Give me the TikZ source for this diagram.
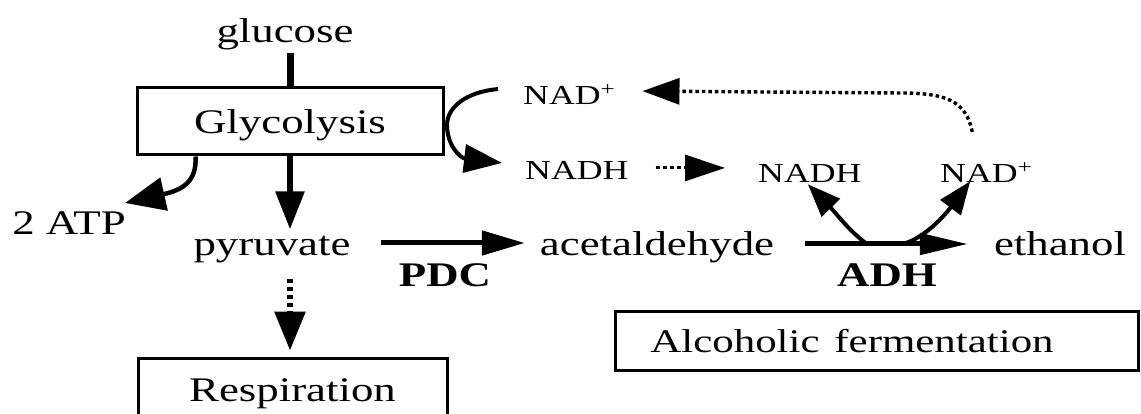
\documentclass[tikz,border=0pt]{standalone}
\usepackage{fontspec}
\setmainfont{Liberation Serif}[FakeStretch=1.3]
\usetikzlibrary{arrows.meta}
\tikzset{
  txt/.style={inner sep=0pt, anchor=base, font=\fontsize{34.5}{40}\selectfont},
  boldtxt/.style={txt, font=\fontsize{34.5}{40}\selectfont\bfseries},
  small/.style={inner sep=0pt, anchor=base west, font=\fontsize{27.5}{32}\selectfont},
  box/.style={draw, line width=3pt, inner sep=0pt, text height=25pt, text depth=0pt,
              font=\fontsize{34.5}{40}\selectfont},
  solidarrow/.style={line width=#1, -{Triangle[length=38pt,width=28pt]}},
  dotline/.style={line width=3.4pt, dash pattern=on 3.5pt off 3pt},
}
\begin{document}
\begin{tikzpicture}[x=1pt,y=-1pt]
\fill[white] (0,0) rectangle (1141,414);
\useasboundingbox (0,0) rectangle (1141,414);

% text nodes
\node[txt] (glucose) at (285,43) {glucose};
\node[box, minimum width=306pt, minimum height=67pt] (glyc) at (290,121.5) {Glycolysis};
\node[txt] (atp) at (69,235) {2 ATP};
\node[txt] (pyr) at (272,255) {pyruvate};
\node[boldtxt] (pdc) at (445,287) {PDC};
\node[txt] (acet) at (657,255) {acetaldehyde};
\node[txt] (eth) at (1060,255) {ethanol};
\node[boldtxt] (adh) at (887,287) {ADH};
\node[small] (nadp1) at (523,105) {NAD\textsuperscript{+}};
\node[small] (nadh1) at (525,180) {NADH};
\node[small] (nadh2) at (758,183) {NADH};
\node[small] (nadp2) at (940,183) {NAD\textsuperscript{+}};
\node[box, minimum width=309pt, minimum height=62pt] (resp) at (292.5,389) {Respiration};
\node[draw, line width=3pt, minimum width=523pt, minimum height=59pt, inner sep=0pt] (alc) at (876.5,341) {};
\node[txt, font=\fontsize{33}{38}\selectfont] (alctxt) at (852,352) {Alcoholic\hspace{0.45em}fermentation};

% glucose -> glycolysis
\draw[line width=7pt] ([shift={(0,2)}]glucose.south -| glyc.north) -- (glyc.north);
% glycolysis -> pyruvate
\draw[solidarrow=6pt] (glyc.south) -- ([shift={(0,-6)}]glyc.south |- pyr.north);
% glycolysis -> 2 ATP
\draw[line width=4.5pt, -{Triangle[length=40pt,width=33pt]}]
  ([shift={(60,0)}]glyc.south west) .. controls (197,182) and (182,190) .. ([shift={(113,-9)}]atp.north west);
% NAD+ -> NADH loop
\draw[line width=4pt, -{Triangle[length=38pt,width=28pt]}]
  ([shift={(-25,-6)}]nadp1.west) .. controls (465,92) and (447,108) .. (447,125)
  .. controls (447,145) and (460,158) .. ([shift={(-23,-8)}]nadh1.west);
% NADH -> NADH dotted
\draw[line width=3pt, dash pattern=on 4pt off 3pt, -{Triangle[length=40pt,width=26pt]}]
  ([shift={(27,-3)}]nadh1.east) -- ([shift={(-33,-6)}]nadh2.west);
% NAD+ (right) -> NAD+ (left) dotted feedback
\draw[dotline, -{Triangle[length=37pt,width=26pt]}]
  ([shift={(-14,-31)}]nadp2.north) .. controls (966,100) and (945,93) .. (900,93)
  -- ([shift={(27,-4)}]nadp1.east);
% pyruvate -> respiration dotted
\draw[line width=6pt, dash pattern=on 4pt off 4pt, -{Triangle[length=39pt,width=30pt]}]
  ([shift={(0,16)}]pyr.south -| glyc.south) -- ([shift={(0,-6)}]resp.north -| glyc.south);
% pyruvate -> acetaldehyde (PDC)
\draw[line width=5pt, -{Triangle[length=43pt,width=24pt]}]
  ([shift={(30,-12)}]pyr.base east) -- ([shift={(-15,-12)}]acet.base west);
% acetaldehyde -> ethanol (ADH)
\draw[line width=5pt, -{Triangle[length=48pt,width=21pt]}]
  ([shift={(31,-11)}]acet.base east) -- ([shift={(-26,-11)}]eth.base west)
  coordinate[pos=0.38] (adhL) coordinate[pos=0.6] (adhR);
% ADH side arrows
\draw[line width=4pt, -{Triangle[length=33pt,width=25pt]}]
  (adhL) .. controls (850,232) and (835,212) .. ([shift={(-2,1)}]nadh2.south);
\draw[line width=4pt, -{Triangle[length=33pt,width=25pt]}]
  (adhR) .. controls (925,238) and (945,215) .. ([shift={(-16,-2)}]nadp2.south);
\end{tikzpicture}
\end{document}
